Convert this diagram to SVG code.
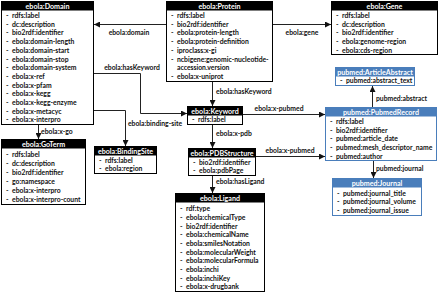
<svg xmlns="http://www.w3.org/2000/svg" width="440" height="293" viewBox="0 0 440 293">
<style>
text{font-family:Lato,"Liberation Sans",sans-serif;font-weight:bold}
.hd{fill:#000}
.hb{fill:#4a7ebb}
.bx{fill:#fff;stroke:#000;stroke-width:1}
.bb{fill:#fff;stroke:#4a7ebb;stroke-width:1}
.ht{fill:#fff;font-size:7.1px;text-anchor:middle}
.it{fill:#111;font-size:6.8px}
.lb{fill:#111;font-size:6.8px}
.cn{fill:none;stroke:#222;stroke-width:1}
</style>
<defs>
<marker id="ar" markerUnits="userSpaceOnUse" markerWidth="6" markerHeight="6" refX="6" refY="3" orient="auto">
<path d="M0,0 L6,3 L0,6 z" fill="#111"/>
</marker>
</defs>
<g id="connectors">
<path class="cn" d="M166,24.5 H94" marker-end="url(#ar)"/>
<text class="lb" x="129" y="35" text-anchor="middle">ebola:domain</text>
<path class="cn" d="M273,24.5 H331" marker-end="url(#ar)"/>
<text class="lb" x="302" y="35" text-anchor="middle">ebola:gene</text>
<path class="cn" d="M94,73.5 H140.5 V113.5 H187" marker-end="url(#ar)"/>
<text class="lb" x="132" y="70" text-anchor="middle">ebola:hasKeyword</text>
<path class="cn" d="M94,110.5 H125.5 V146" marker-end="url(#ar)"/>
<text class="lb" x="155" y="126" text-anchor="middle">ebola:binding-site</text>
<path class="cn" d="M38.5,124 V139" marker-end="url(#ar)"/>
<text class="lb" x="41" y="133.5">ebola:x-go</text>
<path class="cn" d="M212.5,82 V106" marker-end="url(#ar)"/>
<text class="lb" x="216" y="94">ebola:hasKeyword</text>
<path class="cn" d="M212.5,125 V148" marker-end="url(#ar)"/>
<text class="lb" x="216" y="135.5">ebola:x-pdb</text>
<path class="cn" d="M212.5,176 V193" marker-end="url(#ar)"/>
<text class="lb" x="216" y="184">ebola:hasLigand</text>
<path class="cn" d="M243,114.5 H325" marker-end="url(#ar)"/>
<text class="lb" x="279" y="110.5" text-anchor="middle">ebola:x-pubmed</text>
<path class="cn" d="M256,156.5 H325" marker-end="url(#ar)"/>
<text class="lb" x="290" y="152.5" text-anchor="middle">ebola:x-pubmed</text>
<path class="cn" d="M372.5,107 V86" marker-end="url(#ar)"/>
<text class="lb" x="376" y="100.5">pubmed:abstract</text>
<path class="cn" d="M373.5,161 V178" marker-end="url(#ar)"/>
<text class="lb" x="376" y="170.5">pubmed:journal</text>
</g>
<g id="domain">
<rect class="bx" x="1.5" y="1.5" width="92" height="123"/>
<rect class="hd" x="1.5" y="1.5" width="92" height="9"/>
<text class="ht" x="47.5" y="8.8">ebola:Domain</text>
<text class="it" x="6" y="18">-</text><text class="it" x="12" y="18">rdfs:label</text>
<text class="it" x="6" y="26.7">-</text><text class="it" x="12" y="26.7">dc:description</text>
<text class="it" x="6" y="35.4">-</text><text class="it" x="12" y="35.4">bio2rdf:identifier</text>
<text class="it" x="6" y="44.1">-</text><text class="it" x="12" y="44.1">ebola:domain-length</text>
<text class="it" x="6" y="52.8">-</text><text class="it" x="12" y="52.8">ebola:domain-start</text>
<text class="it" x="6" y="61.5">-</text><text class="it" x="12" y="61.5">ebola:domain-stop</text>
<text class="it" x="6" y="70.2">-</text><text class="it" x="12" y="70.2">ebola:domain-system</text>
<text class="it" x="6" y="78.9">-</text><text class="it" x="12" y="78.9">ebola:x-ref</text>
<text class="it" x="6" y="87.6">-</text><text class="it" x="12" y="87.6">ebola:x-pfam</text>
<text class="it" x="6" y="96.3">-</text><text class="it" x="12" y="96.3">ebola:x-kegg</text>
<text class="it" x="6" y="105">-</text><text class="it" x="12" y="105">ebola:x-kegg-enzyme</text>
<text class="it" x="6" y="113.7">-</text><text class="it" x="12" y="113.7">ebola:x-metacyc</text>
<text class="it" x="6" y="122.4">-</text><text class="it" x="12" y="122.4">ebola:x-interpro</text>
</g>
<g id="protein">
<rect class="bx" x="166.5" y="1.5" width="106" height="80"/>
<rect class="hd" x="166.5" y="1.5" width="106" height="9"/>
<text class="ht" x="219.5" y="8.8">ebola:Protein</text>
<text class="it" x="171" y="18">-</text><text class="it" x="177" y="18">rdfs:label</text>
<text class="it" x="171" y="26.7">-</text><text class="it" x="177" y="26.7">bio2rdf:identifier</text>
<text class="it" x="171" y="35.4">-</text><text class="it" x="177" y="35.4">ebola:protein-length</text>
<text class="it" x="171" y="44.1">-</text><text class="it" x="177" y="44.1">ebola:protein-definition</text>
<text class="it" x="171" y="52.8">-</text><text class="it" x="177" y="52.8">iproclass:x-gi</text>
<text class="it" x="171" y="61.5">-</text><text class="it" x="177" y="61.5">ncbigene:genomic-nucleotide-</text>
<text class="it" x="177" y="70.2">accession.version</text>
<text class="it" x="171" y="78.9">-</text><text class="it" x="177" y="78.9">ebola:x-uniprot</text>
</g>
<g id="gene">
<rect class="bx" x="331.5" y="1.5" width="106" height="53"/>
<rect class="hd" x="331.5" y="1.5" width="106" height="9"/>
<text class="ht" x="384.5" y="8.8">ebola:Gene</text>
<text class="it" x="336" y="18">-</text><text class="it" x="342" y="18">rdfs:label</text>
<text class="it" x="336" y="26.7">-</text><text class="it" x="342" y="26.7">dc:description</text>
<text class="it" x="336" y="35.4">-</text><text class="it" x="342" y="35.4">bio2rdf:identifier</text>
<text class="it" x="336" y="44.1">-</text><text class="it" x="342" y="44.1">ebola:genome-region</text>
<text class="it" x="336" y="52.8">-</text><text class="it" x="342" y="52.8">ebola:cds-region</text>
</g>
<g id="articleabstract">
<rect class="bb" x="335.5" y="67.5" width="79" height="18"/>
<rect class="hb" x="335.5" y="67.5" width="79" height="9"/>
<text class="ht" x="375" y="74.8">pubmed:ArticleAbstract</text>
<text class="it" x="340" y="83.3">-</text><text class="it" x="346" y="83.3">pubmed:abstract_text</text>
</g>
<g id="pubmedrecord">
<rect class="bb" x="325.5" y="107.5" width="111" height="53"/>
<rect class="hb" x="325.5" y="107.5" width="111" height="9"/>
<text class="ht" x="381" y="114.8">pubmed:PubmedRecord</text>
<text class="it" x="330" y="124">-</text><text class="it" x="336" y="124">rdfs:label</text>
<text class="it" x="330" y="132.7">-</text><text class="it" x="336" y="132.7">bio2rdf:identifier</text>
<text class="it" x="330" y="141.4">-</text><text class="it" x="336" y="141.4">pubmed:article_date</text>
<text class="it" x="330" y="150.1">-</text><text class="it" x="336" y="150.1">pubmed:mesh_descriptor_name</text>
<text class="it" x="330" y="158.8">-</text><text class="it" x="336" y="158.8">pubmed:author</text>
</g>
<g id="journal">
<rect class="bb" x="332.5" y="178.5" width="89" height="37"/>
<rect class="hb" x="332.5" y="178.5" width="89" height="9"/>
<text class="ht" x="377" y="185.8">pubmed:Journal</text>
<text class="it" x="337" y="195.5">-</text><text class="it" x="343" y="195.5">pubmed:journal_title</text>
<text class="it" x="337" y="204.2">-</text><text class="it" x="343" y="204.2">pubmed:journal_volume</text>
<text class="it" x="337" y="212.9">-</text><text class="it" x="343" y="212.9">pubmed:journal_issue</text>
</g>
<g id="keyword">
<rect class="bx" x="187.5" y="106.5" width="55" height="18"/>
<rect class="hd" x="187.5" y="106.5" width="55" height="9"/>
<text class="ht" x="215" y="113.8">ebola:Keyword</text>
<text class="it" x="192" y="122.4">-</text><text class="it" x="198" y="122.4">rdfs:label</text>
</g>
<g id="bindingsite">
<rect class="bx" x="94.5" y="146.5" width="62" height="27"/>
<rect class="hd" x="94.5" y="146.5" width="62" height="9"/>
<text class="ht" x="125.5" y="153.8">ebola:BindingSite</text>
<text class="it" x="99" y="162.5">-</text><text class="it" x="105" y="162.5">rdfs:label</text>
<text class="it" x="99" y="171.2">-</text><text class="it" x="105" y="171.2">ebola:region</text>
</g>
<g id="pdbstructure">
<rect class="bx" x="188.5" y="148.5" width="67" height="27"/>
<rect class="hd" x="188.5" y="148.5" width="67" height="9"/>
<text class="ht" x="222" y="155.8">ebola:PDBStructure</text>
<text class="it" x="193" y="164.5">-</text><text class="it" x="199" y="164.5">bio2rdf:identifier</text>
<text class="it" x="193" y="173.2">-</text><text class="it" x="199" y="173.2">ebola:pdbPage</text>
</g>
<g id="ligand">
<rect class="bx" x="175.5" y="193.5" width="89" height="98"/>
<rect class="hd" x="175.5" y="193.5" width="89" height="9"/>
<text class="ht" x="220" y="200.8">ebola:Ligand</text>
<text class="it" x="180" y="211.2">-</text><text class="it" x="186" y="211.2">rdf:type</text>
<text class="it" x="180" y="219.9">-</text><text class="it" x="186" y="219.9">ebola:chemicalType</text>
<text class="it" x="180" y="228.5">-</text><text class="it" x="186" y="228.5">bio2rdf:identifier</text>
<text class="it" x="180" y="237.2">-</text><text class="it" x="186" y="237.2">ebola:chemicalName</text>
<text class="it" x="180" y="245.9">-</text><text class="it" x="186" y="245.9">ebola:smilesNotation</text>
<text class="it" x="180" y="254.5">-</text><text class="it" x="186" y="254.5">ebola:molecularWeight</text>
<text class="it" x="180" y="263.2">-</text><text class="it" x="186" y="263.2">ebola:molecularFormula</text>
<text class="it" x="180" y="271.9">-</text><text class="it" x="186" y="271.9">ebola:inchi</text>
<text class="it" x="180" y="280.5">-</text><text class="it" x="186" y="280.5">ebola:inchiKey</text>
<text class="it" x="180" y="289.2">-</text><text class="it" x="186" y="289.2">ebola:x-drugbank</text>
</g>
<g id="goterm">
<rect class="bx" x="1.5" y="139.5" width="84" height="65"/>
<rect class="hd" x="1.5" y="139.5" width="84" height="9"/>
<text class="ht" x="43.5" y="146.8">ebola:GoTerm</text>
<text class="it" x="6" y="157">-</text><text class="it" x="12" y="157">rdfs:label</text>
<text class="it" x="6" y="165.9">-</text><text class="it" x="12" y="165.9">dc:description</text>
<text class="it" x="6" y="174.8">-</text><text class="it" x="12" y="174.8">bio2rdf:identifier</text>
<text class="it" x="6" y="183.7">-</text><text class="it" x="12" y="183.7">go:namespace</text>
<text class="it" x="6" y="192.6">-</text><text class="it" x="12" y="192.6">ebola:x-interpro</text>
<text class="it" x="6" y="201.5">-</text><text class="it" x="12" y="201.5">ebola:x-interpro-count</text>
</g>
</svg>
